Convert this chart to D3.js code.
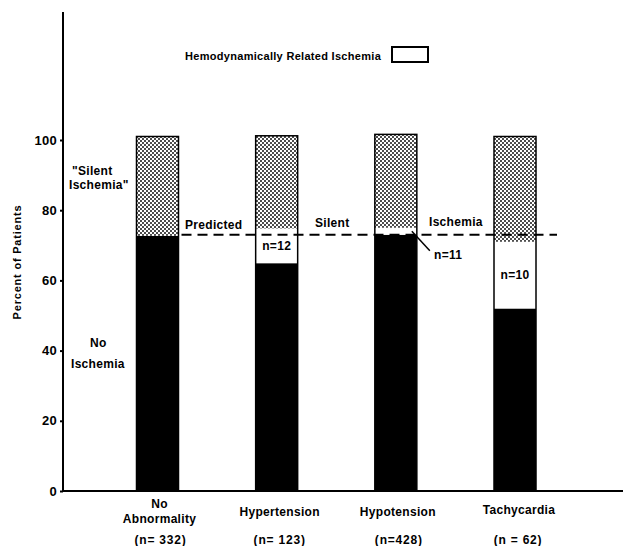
<!DOCTYPE html>
<html>
<head>
<meta charset="utf-8">
<script src="https://cdn.jsdelivr.net/npm/d3@7"></script>
<style>
  body { margin: 0; background: #fff; }
  svg { display: block; }
  text { font-family: "Liberation Sans", Arial, sans-serif; font-weight: bold; fill: #000; letter-spacing: 0.3px; }
</style>
</head>
<body>
<div id="d3-container"></div>
<script>
// values (percent of patients)
const categories = ["No Abnormality", "Hypertension", "Hypotension", "Tachycardia"];
const catLines = [["No", "Abnormality"], ["Hypertension"], ["Hypotension"], ["Tachycardia"]];
const catCounts = ["(n= 332)", "(n= 123)", "(n=428)", "(n = 62)"];
const noIschemia = [72.7, 64.9, 73.0, 52.0];
const hemodynamic = [0, 9.9, 2.0, 19.0];
const silent = [28.3, 26.4, 26.6, 30.0];
const hemoLabels = ["", "n=12", "n=11", "n=10"];
const predicted = 73;
const yTicks = [0, 20, 40, 60, 80, 100];

const width = 623;
const height = 546;

const svg = d3.select('#d3-container')
    .append('svg')
    .attr('width', width)
    .attr('height', height);

const defs = svg.append('defs');
const pat = defs.append('pattern')
    .attr('id', 'stipple')
    .attr('patternUnits', 'userSpaceOnUse')
    .attr('width', 4)
    .attr('height', 4);
pat.append('rect').attr('width', 4).attr('height', 4).attr('fill', '#fff');
pat.append('circle').attr('cx', 1).attr('cy', 1).attr('r', 0.95).attr('fill', '#000');
pat.append('circle').attr('cx', 3).attr('cy', 3).attr('r', 0.95).attr('fill', '#000');

const x = d3.scalePoint()
    .domain(categories)
    .range([157.5, 515]);
const barW = 42;

const y = d3.scaleLinear()
    .domain([0, 100])
    .range([491, 140]);

// stacked segments
const rows = categories.map((c, i) => ({
    cat: c, noIsch: noIschemia[i], hemo: hemodynamic[i], silent: silent[i]
}));
const stack = d3.stack().keys(['noIsch', 'hemo', 'silent'])(rows);
const fills = { noIsch: '#000', hemo: '#fff', silent: 'url(#stipple)' };

stack.forEach(layer => {
    svg.append('g')
        .selectAll('rect')
        .data(layer)
        .join('rect')
        .attr('x', d => x(d.data.cat) - barW / 2)
        .attr('y', d => y(d[1]))
        .attr('width', barW)
        .attr('height', d => y(d[0]) - y(d[1]))
        .attr('fill', fills[layer.key]);
});

// bar outlines
svg.append('g')
    .selectAll('rect')
    .data(rows)
    .join('rect')
    .attr('x', d => x(d.cat) - barW / 2)
    .attr('y', d => y(d.noIsch + d.hemo + d.silent))
    .attr('width', barW)
    .attr('height', d => y(0) - y(d.noIsch + d.hemo + d.silent))
    .attr('fill', 'none')
    .attr('stroke', '#000')
    .attr('stroke-width', 1.5);

// predicted silent ischemia line
svg.append('line')
    .attr('x1', x(categories[0]) + barW / 2 + 3)
    .attr('x2', x(categories[3]) + barW / 2 + 21)
    .attr('y1', y(predicted))
    .attr('y2', y(predicted))
    .attr('stroke', '#000')
    .attr('stroke-width', 2)
    .attr('stroke-dasharray', '10,6');

// axes
const yAxis = svg.append('g')
    .attr('transform', `translate(63,0)`)
    .call(d3.axisLeft(y).tickValues(yTicks).tickSize(3).tickPadding(3));
yAxis.select('.domain').remove();
yAxis.selectAll('.tick line').attr('stroke-width', 2);
yAxis.selectAll('.tick text')
    .attr('font-size', '13px')
    .attr('font-family', '"Liberation Sans", Arial, sans-serif')
    .attr('font-weight', 'bold');

svg.append('line')
    .attr('x1', 63).attr('x2', 63)
    .attr('y1', 12).attr('y2', y(0) + 1)
    .attr('stroke', '#000').attr('stroke-width', 2);
svg.append('line')
    .attr('x1', 62).attr('x2', 623)
    .attr('y1', y(0)).attr('y2', y(0))
    .attr('stroke', '#000').attr('stroke-width', 2);

svg.append('text')
    .attr('transform', 'translate(21,262) rotate(-90)')
    .attr('text-anchor', 'middle')
    .attr('font-size', '11px')
    .style('letter-spacing', '0.8px')
    .text('Percent  of  Patients');

// category labels
const labelBase = [523, 516, 516, 514];
categories.forEach((c, i) => {
    const lines = catLines[i];
    lines.forEach((t, j) => {
        svg.append('text')
            .attr('x', x(c) + (i === 1 ? 3 : i === 3 ? 4 : 2))
            .attr('y', labelBase[i] - (lines.length - 1 - j) * 15)
            .attr('text-anchor', 'middle')
            .attr('font-size', '12px')
            .text(t);
    });
    svg.append('text')
        .attr('x', x(c) + 3)
        .attr('y', 544)
        .attr('text-anchor', 'middle')
        .attr('font-size', '12px')
        .style('letter-spacing', '0.8px')
        .text(catCounts[i]);
});

// n= labels in white segments
svg.append('text')
    .attr('x', x(categories[1]))
    .attr('y', y(noIschemia[1] + hemodynamic[1] / 2) + 4)
    .attr('text-anchor', 'middle')
    .attr('font-size', '12px')
    .text(hemoLabels[1]);
svg.append('text')
    .attr('x', x(categories[3]))
    .attr('y', y(noIschemia[3] + hemodynamic[3] / 2) + 4)
    .attr('text-anchor', 'middle')
    .attr('font-size', '12px')
    .text(hemoLabels[3]);
svg.append('line')
    .attr('x1', x(categories[2]) + barW / 2 - 5)
    .attr('y1', y(noIschemia[2] + hemodynamic[2] / 2))
    .attr('x2', x(categories[2]) + barW / 2 + 13)
    .attr('y2', y(noIschemia[2]) - 14 + 30)
    .attr('stroke', '#000').attr('stroke-width', 1.5);
svg.append('text')
    .attr('x', 434)
    .attr('y', 259)
    .attr('font-size', '12px')
    .text(hemoLabels[2]);

// annotations
const notes = [
    { t: 'Predicted', x: 185, y: 229 },
    { t: 'Silent', x: 315, y: 227 },
    { t: 'Ischemia', x: 429, y: 226 },
    { t: '"Silent', x: 72, y: 175 },
    { t: 'Ischemia"', x: 69, y: 189 },
    { t: 'No', x: 90, y: 347 },
    { t: 'Ischemia', x: 71, y: 368 }
];
svg.append('g')
    .selectAll('text')
    .data(notes)
    .join('text')
    .attr('x', d => d.x)
    .attr('y', d => d.y)
    .attr('font-size', '12px')
    .text(d => d.t);

// legend
svg.append('text')
    .attr('x', 185)
    .attr('y', 60)
    .attr('font-size', '11px')
    .text('Hemodynamically Related Ischemia');
svg.append('rect')
    .attr('x', 392).attr('y', 47)
    .attr('width', 36).attr('height', 15)
    .attr('fill', '#fff')
    .attr('stroke', '#000')
    .attr('stroke-width', 2);
</script>
</body>
</html>
